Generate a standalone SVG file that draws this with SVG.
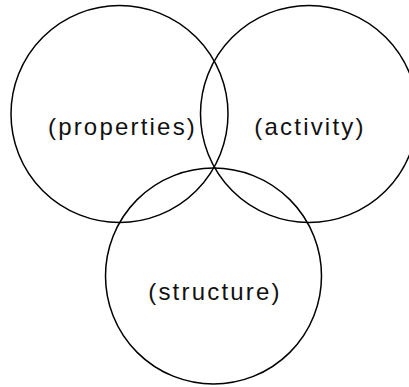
<svg xmlns="http://www.w3.org/2000/svg" width="409" height="387" viewBox="0 0 409 387">
<style>
.c{fill:none;stroke:#000;stroke-width:1.5}
.t{font-family:"Liberation Sans",Arial,sans-serif;font-size:24px;letter-spacing:2.2px;text-anchor:middle;fill:#111}
</style>
<rect width="409" height="387" fill="#fff"/>
<g id="properties"><circle class="c" cx="119.5" cy="114" r="108.5"/><text class="t" x="122.5" y="135">(properties)</text></g>
<g id="activity"><circle class="c" cx="309" cy="114" r="108.5"/><text class="t" x="310" y="135">(activity)</text></g>
<g id="structure"><circle class="c" cx="213.5" cy="276" r="108"/><text class="t" x="215" y="300">(structure)</text></g>
<g id="connectors"/>
</svg>
